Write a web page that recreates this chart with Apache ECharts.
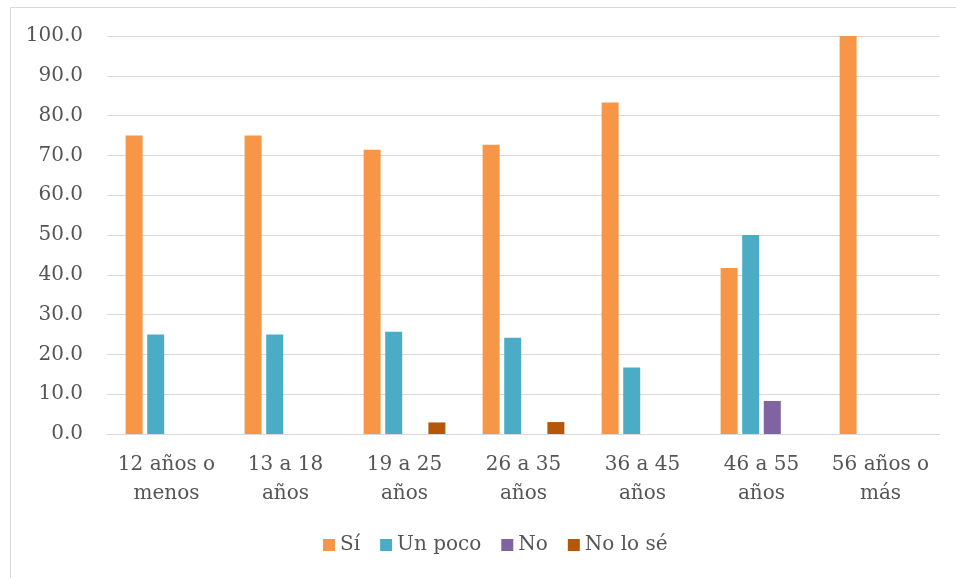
<!DOCTYPE html>
<html>
<head>
<meta charset="utf-8">
<script src="https://cdn.jsdelivr.net/npm/echarts@6/dist/echarts.min.js"></script>
<style>
  html, body { margin: 0; padding: 0; background: #ffffff; }
  #chart { width: 956px; height: 578px; }
</style>
</head>
<body>
<div id="chart"></div>
<script>
// Age groups along the x axis
const categories = ['12 años o\nmenos', '13 a 18\naños', '19 a 25\naños', '26 a 35\naños', '36 a 45\naños', '46 a 55\naños', '56 años o\nmás'];

// Percentages per answer
const siValues = [75.0, 75.0, 71.4, 72.7, 83.3, 41.7, 100.0];
const unPocoValues = [25.0, 25.0, 25.7, 24.2, 16.7, 50.0, 0];
const noValues = [0, 0, 0, 0, 0, 8.3, 0];
const noLoSeValues = [0, 0, 2.9, 3.0, 0, 0, 0];

const seriesNames = ['Sí', 'Un poco', 'No', 'No lo sé'];
const seriesColors = ['#F79646', '#4BACC6', '#8064A2', '#B65708'];

// y axis ticks: 0.0 .. 100.0 every 10
const yMin = 0, yMax = 100, yStep = 10;

const textColor = '#555555';
const fontFamily = '"DejaVu Serif", "Liberation Serif", serif';

const chart = echarts.init(document.getElementById('chart'), null, { renderer: 'canvas' });

const valueSets = [siValues, unPocoValues, noValues, noLoSeValues];

chart.setOption({
  animation: false,
  backgroundColor: '#ffffff',
  textStyle: { fontFamily: fontFamily, color: textColor },
  // chart frame (left and top edges visible)
  graphic: [{
    type: 'rect',
    shape: { x: 10.5, y: 7.5, width: 1200, height: 1200 },
    style: { fill: 'none', stroke: '#d9d9d9', lineWidth: 1 },
    silent: true
  }],
  grid: { left: 107, right: 16, top: 36, bottom: 144, containLabel: false },
  legend: {
    bottom: 18,
    left: 318,
    itemWidth: 12,
    itemHeight: 12,
    itemGap: 20,
    itemStyle: { borderWidth: 0 },
    textStyle: { fontFamily: fontFamily, fontSize: 20, color: textColor, padding: [0, 0, 0, 0] },
    data: seriesNames.map(n => ({ name: n, icon: 'rect' }))
  },
  xAxis: {
    type: 'category',
    data: categories,
    axisLine: { show: true, lineStyle: { color: '#d9d9d9', width: 1 } },
    axisTick: { show: false },
    axisLabel: {
      interval: 0,
      margin: 16,
      color: textColor,
      fontFamily: fontFamily,
      fontSize: 20,
      lineHeight: 29
    }
  },
  yAxis: {
    type: 'value',
    min: yMin,
    max: yMax,
    interval: yStep,
    axisLine: { show: false },
    axisTick: { show: false },
    splitLine: { lineStyle: { color: '#d9d9d9', width: 1 } },
    axisLabel: {
      margin: 24,
      color: textColor,
      fontFamily: fontFamily,
      fontSize: 20,
      formatter: v => v.toFixed(1)
    }
  },
  series: seriesNames.map((name, i) => ({
    name: name,
    type: 'bar',
    data: valueSets[i],
    barWidth: 17,
    barGap: '27%',
    itemStyle: { color: seriesColors[i] }
  }))
});
</script>
</body>
</html>
